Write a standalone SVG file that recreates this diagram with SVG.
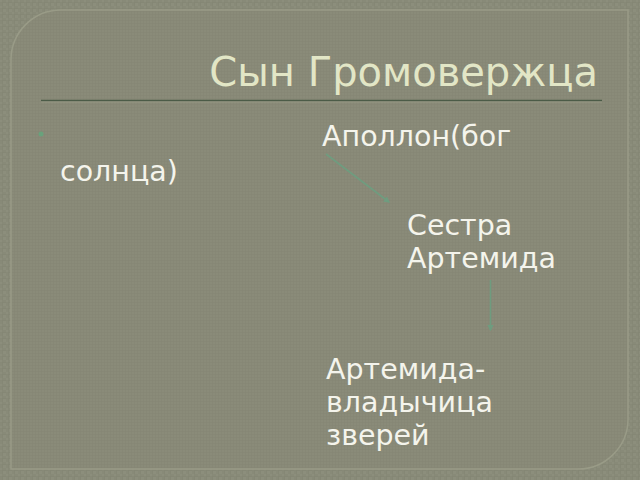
<svg xmlns="http://www.w3.org/2000/svg" width="640" height="480" viewBox="0 0 640 480">
<defs>
<pattern id="outerTex" width="6" height="6" patternUnits="userSpaceOnUse">
<rect width="6" height="6" fill="#888a78"/>
<rect x="0" y="0" width="3" height="3" fill="#8c8e7c"/>
<rect x="3" y="3" width="3" height="3" fill="#8c8e7c"/>
<rect x="0" y="2" width="6" height="1" fill="#818372" opacity="0.5"/>
<rect x="2" y="0" width="1" height="6" fill="#818372" opacity="0.5"/>
</pattern>
<pattern id="innerTex" width="3" height="3" patternUnits="userSpaceOnUse">
<rect width="3" height="3" fill="#8a8b79"/>
<rect x="0" y="2" width="3" height="1" fill="#858674" opacity="0.6"/>
<rect x="2" y="0" width="1" height="3" fill="#858674" opacity="0.6"/>
</pattern>
<marker id="arrow" viewBox="0 0 10 10" refX="8" refY="5" markerWidth="4" markerHeight="4" orient="auto" markerUnits="strokeWidth">
<path d="M0,0 L10,5 L0,10 z" fill="#6f9c7f"/>
</marker>
</defs>
<style>
.body{font-family:"DejaVu Sans","Noto Sans",sans-serif;font-size:28.5px;fill:#f4f4ec}
.title{font-family:"DejaVu Sans","Noto Sans",sans-serif;font-size:40px;fill:#e2e6c6}
.conn{stroke:#6f9c7f;stroke-width:1.6;fill:none;marker-end:url(#arrow)}
</style>
<rect width="640" height="480" fill="url(#outerTex)"/>
<path d="M11,60 A50,50 0 0 1 61,10 L628,10 L628,419 A50,50 0 0 1 578,469 L11,469 Z" fill="url(#innerTex)" stroke="#999b87" stroke-width="1.5"/>
<g id="title">
<text class="title" x="598" y="86" text-anchor="end">Сын Громовержца</text>
<line x1="41" y1="100.5" x2="602" y2="100.5" stroke="#4b5b47" stroke-width="1.6"/>
<line x1="41" y1="102" x2="602" y2="102" stroke="#9a9d88" stroke-width="0.8"/>
</g>
<g id="node-apollo">
<circle cx="41" cy="134" r="2.5" fill="#69a27c"/>
<text class="body" x="322" y="146">Аполлон(бог</text>
<text class="body" x="60" y="181">солнца)</text>
</g>
<g id="node-sister">
<text class="body" x="407" y="235">Сестра</text>
<text class="body" x="407" y="268">Артемида</text>
</g>
<g id="node-mistress">
<text class="body" x="326" y="379">Артемида-</text>
<text class="body" x="326" y="412">владычица</text>
<text class="body" x="326" y="445">зверей</text>
</g>
<g id="connectors">
<line class="conn" x1="326" y1="154" x2="389" y2="202"/>
<line class="conn" x1="490.5" y1="280" x2="490.5" y2="330"/>
</g>
</svg>
